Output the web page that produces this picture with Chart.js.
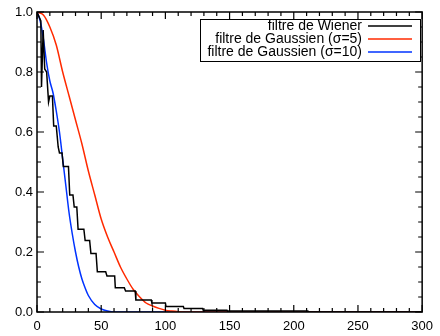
<!DOCTYPE html>
<html>
<head>
<meta charset="utf-8">
<script src="https://cdn.jsdelivr.net/npm/chart.js@4/dist/chart.umd.min.js"></script>
<style>
html,body{margin:0;padding:0;background:#fff;}
#wrap{width:440px;height:336px;position:relative;}
</style>
</head>
<body>
<div id="wrap"><canvas id="c"></canvas></div>
<script>
// Wiener filter (step-like curve)
const wienerX = [0, 3, 3.5, 4.8, 6, 7.5, 9, 10, 12, 13, 15, 16.5, 17.5, 19.5, 20.5, 24.5, 25.5, 28, 29, 31, 32, 36.5, 37.5, 41, 42, 46, 47, 53.5, 54.5, 60.5, 61, 68, 69, 76.5, 77, 89, 89.5, 100, 100.5, 114, 114.5, 129, 129.5, 148, 148.5, 211, 211.5, 300];
const wienerY = [1.0, 0.97, 0.75, 0.94, 0.81, 0.80, 0.70, 0.72, 0.72, 0.62, 0.62, 0.55, 0.53, 0.53, 0.485, 0.485, 0.39, 0.39, 0.35, 0.35, 0.276, 0.276, 0.238, 0.238, 0.195, 0.195, 0.134, 0.134, 0.12, 0.12, 0.081, 0.081, 0.07, 0.07, 0.04, 0.04, 0.03, 0.03, 0.018, 0.018, 0.012, 0.012, 0.006, 0.006, 0.003, 0.003, 0, 0];
// Gaussian filter sigma=5
const redX = [0, 5, 10, 15, 20, 25, 30, 35, 40, 45, 50, 55, 60, 65, 70, 75, 80, 85, 90, 95, 100, 105, 110, 120, 300];
const redY = [1.0, 0.99, 0.95, 0.89, 0.80, 0.72, 0.64, 0.56, 0.47, 0.39, 0.31, 0.25, 0.20, 0.15, 0.11, 0.075, 0.05, 0.03, 0.02, 0.012, 0.006, 0.003, 0.001, 0, 0];
// Gaussian filter sigma=10
const blueX = [0, 2.5, 5, 7.5, 10, 12.5, 15, 17.5, 20, 22.5, 25, 27.5, 30, 32.5, 35, 37.5, 40, 45, 50, 55, 60, 300];
const blueY = [1.0, 0.97, 0.91, 0.83, 0.77, 0.73, 0.67, 0.60, 0.51, 0.42, 0.33, 0.26, 0.20, 0.15, 0.11, 0.08, 0.055, 0.025, 0.01, 0.003, 0, 0];

const labels = ["filtre de Wiener", "filtre de Gaussien (\u03C3=5)", "filtre de Gaussien (\u03C3=10)"];
const xMajor = [0, 50, 100, 150, 200, 250, 300];
const yMajor = [0, 0.2, 0.4, 0.6, 0.8, 1.0];

const FONT = "'Liberation Sans', Arial, Helvetica, sans-serif";
const pts = (xs, ys) => xs.map((x, i) => ({x: x, y: ys[i]}));

const framePlugin = {
  id: 'frame',
  afterDraw(chart) {
    const ctx = chart.ctx, a = chart.chartArea;
    const xs = chart.scales.x, ys = chart.scales.y;
    ctx.save();
    ctx.strokeStyle = '#000';
    ctx.lineWidth = 1.5;
    ctx.strokeRect(a.left, a.top, a.right - a.left, a.bottom - a.top);
    ctx.lineWidth = 1.2;
    ctx.beginPath();
    for (let v = 0; v <= 300; v += 10) {
      const px = xs.getPixelForValue(v);
      const len = (v % 50 === 0) ? 7 : 4;
      ctx.moveTo(px, a.bottom); ctx.lineTo(px, a.bottom - len);
      ctx.moveTo(px, a.top); ctx.lineTo(px, a.top + len);
    }
    for (let k = 0; k <= 20; k++) {
      const v = k * 0.05;
      const py = ys.getPixelForValue(v);
      const len = (k % 4 === 0) ? 7 : 4;
      ctx.moveTo(a.left, py); ctx.lineTo(a.left + len, py);
      ctx.moveTo(a.right, py); ctx.lineTo(a.right - len, py);
    }
    ctx.stroke();

    // legend
    const bx = 200.5, by = 19.5, bw = 220, bh = 42;
    ctx.fillStyle = '#fff';
    ctx.fillRect(bx, by, bw, bh);
    ctx.lineWidth = 1;
    ctx.strokeStyle = '#000';
    ctx.strokeRect(bx, by, bw, bh);
    ctx.font = '14px ' + FONT;
    ctx.textAlign = 'right';
    ctx.textBaseline = 'middle';
    chart.data.datasets.forEach((ds, i) => {
      const yy = 26 + i * 13;
      ctx.fillStyle = '#000';
      ctx.fillText(ds.label, 362, yy + 0.5);
      ctx.strokeStyle = ds.borderColor;
      ctx.lineWidth = 1.5;
      ctx.beginPath();
      ctx.moveTo(368, yy); ctx.lineTo(412, yy);
      ctx.stroke();
    });
    ctx.restore();
  }
};

new Chart(document.getElementById('c'), {
  type: 'line',
  data: {
    datasets: [
      {label: labels[0], data: pts(wienerX, wienerY), borderColor: '#000000', borderWidth: 1.5, pointRadius: 0, tension: 0},
      {label: labels[1], data: pts(redX, redY), borderColor: '#ff2a00', borderWidth: 1.5, pointRadius: 0, cubicInterpolationMode: 'monotone'},
      {label: labels[2], data: pts(blueX, blueY), borderColor: '#0033ff', borderWidth: 1.5, pointRadius: 0, cubicInterpolationMode: 'monotone'}
    ]
  },
  options: {
    responsive: true,
    maintainAspectRatio: false,
    animation: false,
    layout: {autoPadding: false, padding: {top: 12, right: 10, left: 0, bottom: 0}},
    plugins: {legend: {display: false}, tooltip: {enabled: false}},
    scales: {
      x: {
        type: 'linear', min: 0, max: 300,
        afterBuildTicks: s => { s.ticks = xMajor.map(v => ({value: v})); },
        afterTickToLabelConversion: s => { s.ticks.forEach(t => { t.label = String(t.value); }); },
        afterFit: s => { s.height = 24; },
        grid: {display: false, drawTicks: false},
        border: {display: false},
        ticks: {color: '#000', font: {family: FONT, size: 13}, padding: 7, maxRotation: 0, autoSkip: false}
      },
      y: {
        type: 'linear', min: 0, max: 1,
        afterBuildTicks: s => { s.ticks = yMajor.map(v => ({value: v})); },
        afterTickToLabelConversion: s => { s.ticks.forEach(t => { t.label = Number(t.value).toFixed(1); }); },
        afterFit: s => { s.width = 37; },
        grid: {display: false, drawTicks: false},
        border: {display: false},
        ticks: {color: '#000', font: {family: FONT, size: 13}, padding: 4, autoSkip: false}
      }
    }
  },
  plugins: [framePlugin]
});
</script>
</body>
</html>
